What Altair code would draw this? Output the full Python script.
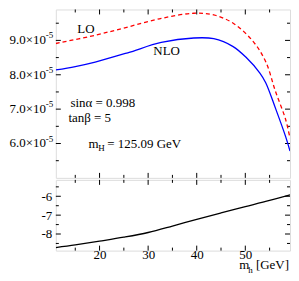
import altair as alt
import pandas as pd

# ---------------- data ----------------
MH_LO = [11.0, 19.1, 25.8, 32.7, 39.4, 43.5, 47.5, 51.6, 54.2, 56.2, 58.3, 59.2]
LO = [8.91e-5, 9.15e-5, 9.39e-5, 9.64e-5, 9.79e-5, 9.74e-5, 9.50e-5, 8.97e-5,
      8.38e-5, 7.52e-5, 6.70e-5, 6.15e-5]
MH_NLO = [11.0, 15.0, 19.1, 25.8, 32.7, 39.4, 43.5, 47.5, 50.2, 53.0, 54.2, 56.2, 58.3, 59.2]
NLO = [8.14e-5, 8.24e-5, 8.37e-5, 8.64e-5, 8.94e-5, 9.07e-5, 9.05e-5, 8.82e-5, 8.50e-5,
       8.05e-5, 7.77e-5, 7.03e-5, 6.20e-5, 5.78e-5]
MH_RATIO = [11, 15, 20, 25, 30, 35, 40, 45, 50, 55, 59.2]
RATIO = [-8.72, -8.58, -8.38, -8.17, -7.92, -7.58, -7.22, -6.88, -6.55, -6.22, -5.92]

X_MAJOR = [20, 30, 40, 50]
X_MINOR = [15, 25, 35, 45, 55]
TOP_Y_MAJOR = [6e-5, 7e-5, 8e-5, 9e-5]
TOP_Y_MINOR = [5.5e-5, 6.5e-5, 7.5e-5, 8.5e-5, 9.5e-5]
TOP_Y_LABELS = ["6.0×10", "7.0×10", "8.0×10", "9.0×10"]
TOP_Y_EXP = ["-5", "-5", "-5", "-5"]
BOT_Y_MAJOR = [-8, -7, -6]
BOT_Y_MINOR = [-8.5, -7.5, -6.5, -5.5]

CURVE_LABELS = ["LO", "NLO"]
CURVE_LABEL_X = [17.2, 33.8]
CURVE_LABEL_Y = [9.34e-5, 8.68e-5]
PARAM_TEXT = ["sinα = 0.998", "tanβ = 5"]
PARAM_X = [14.0, 13.6]
PARAM_Y = [7.18e-5, 6.74e-5]
MASS_X = [17.7]
MASS_Y = [5.98e-5]
MASS_PARTS = ["m", "H", "= 125.09 GeV"]
XTITLE_PARTS = ["m", "h", "[GeV]"]

# ---------------- style ----------------
FONT = "Liberation Serif"
FS = 13
W, H1, H2 = 235, 169, 71
MAJ, MIN = 5, 3
X_DOMAIN = [11, 59.2]
TOP_DOMAIN = [5.0e-5, 9.9e-5]
BOT_DOMAIN = [-8.88, -5.13]

xs = alt.Scale(domain=X_DOMAIN, nice=False, zero=False)
ys_top = alt.Scale(domain=TOP_DOMAIN, nice=False, zero=False)
ys_bot = alt.Scale(domain=BOT_DOMAIN, nice=False, zero=False)

X_AX_BOT = alt.Axis(values=X_MAJOR, ticks=False, domain=False, grid=False,
                    labelPadding=-2, labelFont=FONT, labelFontSize=FS,
                    labelColor="black", format="d", title=None)
Y_AX_BOT = alt.Axis(values=BOT_Y_MAJOR, ticks=False, domain=False, grid=False,
                    labelPadding=4, labelFont=FONT, labelFontSize=FS,
                    labelColor="black", title=None,
                    labelExpr="datum.value < 0 ? '-' + format(-datum.value, 'd') : format(datum.value, 'd')")


def x_ticks(values, length, H, axis=None):
    base = alt.Chart(pd.DataFrame({"v": values}))
    enc_x = alt.X("v:Q", scale=xs, axis=axis, title=None)
    top = base.mark_rule(color="black", strokeWidth=1).encode(
        x=enc_x, y=alt.value(0), y2=alt.value(length))
    bot = base.mark_rule(color="black", strokeWidth=1).encode(
        x=enc_x, y=alt.value(H), y2=alt.value(H - length))
    return [top, bot]


def y_ticks(values, length, yscale, axis=None):
    base = alt.Chart(pd.DataFrame({"v": values}))
    enc_y = alt.Y("v:Q", scale=yscale, axis=axis, title=None)
    left = base.mark_rule(color="black", strokeWidth=1).encode(
        y=enc_y, x=alt.value(0), x2=alt.value(length))
    right = base.mark_rule(color="black", strokeWidth=1).encode(
        y=enc_y, x=alt.value(W), x2=alt.value(W - length))
    return [left, right]


# ---------------- top panel ----------------
lo_df = pd.DataFrame({"mh": MH_LO, "val": LO})
nlo_df = pd.DataFrame({"mh": MH_NLO, "val": NLO})

lo_line = alt.Chart(lo_df).mark_line(
    color="#ff0000", strokeWidth=1.3, strokeDash=[4, 3], interpolate="catmull-rom", clip=True
).encode(x=alt.X("mh:Q", scale=xs, axis=None), y=alt.Y("val:Q", scale=ys_top, axis=None))

nlo_line = alt.Chart(nlo_df).mark_line(
    color="#0000ff", strokeWidth=1.3, interpolate="catmull-rom", clip=True
).encode(x=alt.X("mh:Q", scale=xs, axis=None), y=alt.Y("val:Q", scale=ys_top, axis=None))

ylab_df = pd.DataFrame({"v": TOP_Y_MAJOR, "label": TOP_Y_LABELS, "exp": TOP_Y_EXP})
ylab = alt.Chart(ylab_df).mark_text(
    align="right", baseline="middle", font=FONT, fontSize=FS, color="black"
).encode(x=alt.value(-10), y=alt.Y("v:Q", scale=ys_top, axis=None), text="label:N")
yexp = alt.Chart(ylab_df).mark_text(
    align="left", baseline="middle", font=FONT, fontSize=9, color="black", dy=-5
).encode(x=alt.value(-10), y=alt.Y("v:Q", scale=ys_top, axis=None), text="exp:N")

cl_df = pd.DataFrame({"x": CURVE_LABEL_X, "y": CURVE_LABEL_Y, "t": CURVE_LABELS})
curve_labels = alt.Chart(cl_df).mark_text(
    align="center", baseline="middle", font=FONT, fontSize=FS, color="black"
).encode(x=alt.X("x:Q", scale=xs, axis=None), y=alt.Y("y:Q", scale=ys_top, axis=None), text="t:N")

p_df = pd.DataFrame({"x": PARAM_X, "y": PARAM_Y, "t": PARAM_TEXT})
params = alt.Chart(p_df).mark_text(
    align="left", baseline="middle", font=FONT, fontSize=FS, color="black"
).encode(x=alt.X("x:Q", scale=xs, axis=None), y=alt.Y("y:Q", scale=ys_top, axis=None), text="t:N")

m_df = pd.DataFrame({"x": MASS_X, "y": MASS_Y, "m": [MASS_PARTS[0]], "s": [MASS_PARTS[1]], "r": [MASS_PARTS[2]]})
m_base = alt.Chart(m_df)
m_enc = dict(x=alt.X("x:Q", scale=xs, axis=None), y=alt.Y("y:Q", scale=ys_top, axis=None))
mass_m = m_base.mark_text(align="left", baseline="middle", font=FONT, fontSize=FS, color="black").encode(text="m:N", **m_enc)
mass_s = m_base.mark_text(align="left", baseline="middle", font=FONT, fontSize=9, color="black", dx=10, dy=4).encode(text="s:N", **m_enc)
mass_r = m_base.mark_text(align="left", baseline="middle", font=FONT, fontSize=FS, color="black", dx=19).encode(text="r:N", **m_enc)

top = alt.layer(
    *x_ticks(X_MAJOR, MAJ, H1), *x_ticks(X_MINOR, MIN, H1),
    *y_ticks(TOP_Y_MAJOR, MAJ, ys_top), *y_ticks(TOP_Y_MINOR, MIN, ys_top),
    lo_line, nlo_line, ylab, yexp, curve_labels, params, mass_m, mass_s, mass_r,
).properties(width=W, height=H1)

# ---------------- bottom panel ----------------
r_df = pd.DataFrame({"mh": MH_RATIO, "r": RATIO})
ratio_line = alt.Chart(r_df).mark_line(
    color="black", strokeWidth=1.3, interpolate="catmull-rom", clip=True
).encode(
    x=alt.X("mh:Q", scale=xs, axis=X_AX_BOT, title=None),
    y=alt.Y("r:Q", scale=ys_bot, axis=Y_AX_BOT, title=None),
)

xt_df = pd.DataFrame({"m": [XTITLE_PARTS[0]], "s": [XTITLE_PARTS[1]], "u": [XTITLE_PARTS[2]]})
xt_base = alt.Chart(xt_df)
xt_m = xt_base.mark_text(align="left", baseline="alphabetic", font=FONT, fontSize=FS, color="black").encode(
    x=alt.value(W - 51), y=alt.value(H2 + 18), text="m:N")
xt_s = xt_base.mark_text(align="left", baseline="alphabetic", font=FONT, fontSize=9, color="black").encode(
    x=alt.value(W - 42), y=alt.value(H2 + 22), text="s:N")
xt_u = xt_base.mark_text(align="right", baseline="alphabetic", font=FONT, fontSize=FS, color="black").encode(
    x=alt.value(W - 1), y=alt.value(H2 + 18), text="u:N")

bottom = alt.layer(
    ratio_line,
    *x_ticks(X_MAJOR, MAJ, H2, X_AX_BOT), *x_ticks(X_MINOR, MIN, H2, X_AX_BOT),
    *y_ticks(BOT_Y_MAJOR, MAJ, ys_bot, Y_AX_BOT), *y_ticks(BOT_Y_MINOR, MIN, ys_bot, Y_AX_BOT),
    xt_m, xt_s, xt_u,
).properties(width=W, height=H2)

chart = alt.vconcat(top, bottom, spacing=0).properties(
    padding={"left": 0, "top": 0, "right": 0, "bottom": 0}
).configure_view(stroke="black", strokeWidth=1).configure(background="white")

chart.save("out.html", embed_options={"renderer": "svg", "actions": False})
